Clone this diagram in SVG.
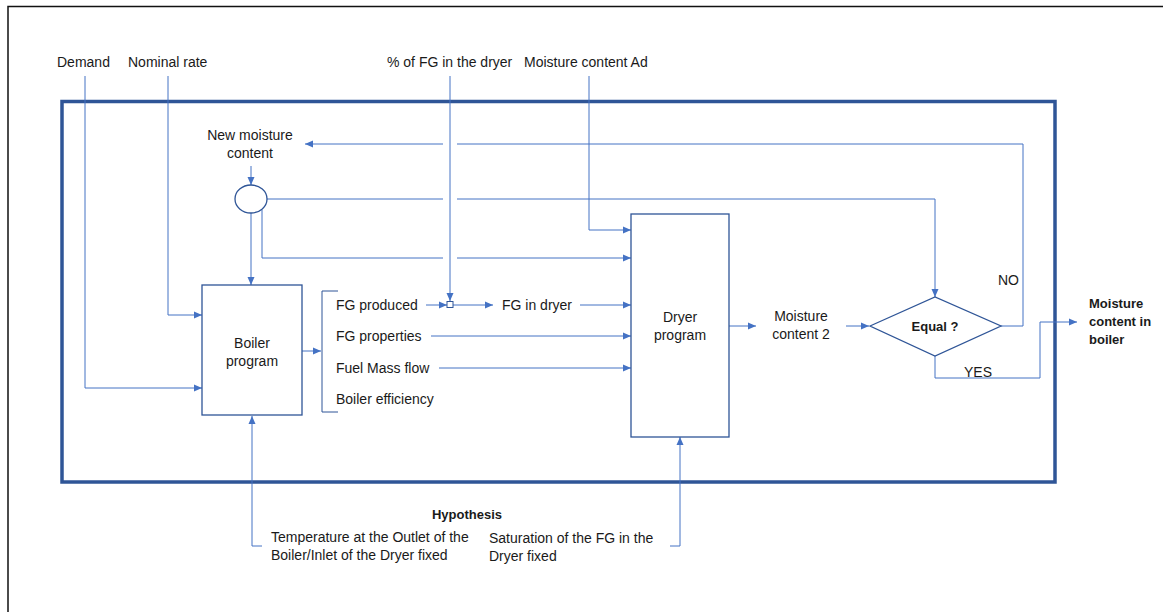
<svg xmlns="http://www.w3.org/2000/svg" width="1163" height="612" viewBox="0 0 1163 612">
<defs>
<marker id="ah" viewBox="0 0 8 8" refX="8" refY="4" markerWidth="8" markerHeight="8" markerUnits="userSpaceOnUse" orient="auto">
<path d="M0,0.5 L8,4 L0,7.5 Z" fill="#4472C4"/>
</marker>
<style>
text{font-family:"Liberation Sans",Arial,sans-serif;font-size:14px;fill:#1a1a1a}
.b{font-weight:bold;font-size:13px}
.m{text-anchor:middle}
.c{fill:none;stroke:#4472C4;stroke-width:1}
.a{marker-end:url(#ah)}
.box{fill:#fff;stroke:#2F5597;stroke-width:1.3}
</style>
</defs>
<rect width="1163" height="612" fill="#fff"/>
<path d="M8,612 V6.5 H1163" fill="none" stroke="#111" stroke-width="1.5"/>
<rect id="frame" x="62" y="101.5" width="993" height="380.5" fill="none" stroke="#2F5597" stroke-width="3.5"/>

<g id="connectors">
<path class="c a" d="M85,76 V388 H202"/>
<path class="c a" d="M168,76 V315 H202"/>
<path class="c a" d="M450,76 V301"/>
<path class="c a" d="M589,76 V230 H631"/>
<path class="c" d="M1001,326 H1023 V144 H457"/>
<path class="c a" d="M443,144 H305"/>
<path class="c" d="M267,199 H443"/>
<path class="c a" d="M457,199 H935 V297"/>
<path class="c" d="M262,210 V258 H443"/>
<path class="c a" d="M457,258 H631"/>
<path class="c a" d="M251,166 V185"/>
<path class="c a" d="M251,213 V285"/>
<path class="c a" d="M302,351 H321"/>
<path class="c a" d="M426,305 H447"/>
<path class="c a" d="M453,305 H493"/>
<path class="c a" d="M580,305 H631"/>
<path class="c a" d="M431,336 H631"/>
<path class="c a" d="M439,368 H631"/>
<path class="c a" d="M729,326 H756"/>
<path class="c a" d="M846,326 H869"/>
<path class="c a" d="M935,356 V378 H1040 V322 H1077"/>
<path class="c a" d="M262,546 H252 V416"/>
<path class="c a" d="M670,546 H680 V437"/>
<path d="M338,291 H322 V412 H338" fill="none" stroke="#2F5597" stroke-width="1"/>
</g>

<g id="labels-top">
<text x="57" y="67">Demand</text>
<text x="128" y="67">Nominal rate</text>
<text x="387" y="67">% of FG in the dryer</text>
<text x="524" y="67">Moisture content Ad</text>
</g>

<g id="new-moisture">
<text class="m" x="250" y="140">New moisture</text>
<text class="m" x="250" y="158">content</text>
</g>

<g id="mixer">
<ellipse cx="251" cy="199" rx="16" ry="14" class="box"/>
</g>

<g id="boiler">
<rect x="202" y="285" width="100" height="130" class="box"/>
<text class="m" x="252" y="348">Boiler</text>
<text class="m" x="252" y="366">program</text>
</g>

<g id="boiler-outputs">
<text x="336" y="310">FG produced</text>
<text x="336" y="341">FG properties</text>
<text x="336" y="373">Fuel Mass flow</text>
<text x="336" y="404">Boiler efficiency</text>
</g>

<g id="split">
<rect x="447" y="301.5" width="6" height="6" fill="#fff" stroke="#2F5597" stroke-width="1"/>
</g>

<g id="fg-dryer">
<text x="502" y="310">FG in dryer</text>
</g>

<g id="dryer">
<rect x="631" y="214" width="98" height="223" class="box"/>
<text class="m" x="680" y="322">Dryer</text>
<text class="m" x="680" y="340">program</text>
</g>

<g id="mc2">
<text class="m" x="801" y="321">Moisture</text>
<text class="m" x="801" y="339">content 2</text>
</g>

<g id="equal">
<path d="M870,326 L935,297 L1001,326 L935,356 Z" class="box"/>
<text class="m b" x="935" y="331">Equal ?</text>
</g>

<text x="998" y="285">NO</text>
<text x="964" y="377">YES</text>

<g id="result">
<text class="b" x="1089" y="308">Moisture</text>
<text class="b" x="1089" y="326">content in</text>
<text class="b" x="1089" y="344">boiler</text>
</g>

<g id="hypothesis">
<text class="m b" x="467" y="519">Hypothesis</text>
<text x="271" y="542">Temperature at the Outlet of the</text>
<text x="271" y="560">Boiler/Inlet of the Dryer fixed</text>
<text x="489" y="543">Saturation of the FG in the</text>
<text x="489" y="561">Dryer fixed</text>
</g>
</svg>
